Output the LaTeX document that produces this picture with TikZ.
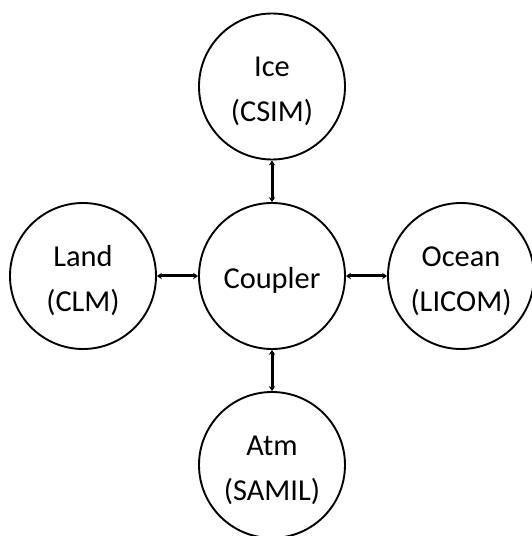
\documentclass[tikz,border=0pt]{standalone}
\usepackage{fontspec}
\setmainfont{Carlito}
\usetikzlibrary{arrows.meta}
% centred block of lines, set a little below the middle of its circle
\newcommand\modeltext[1]{\raisebox{-4pt}[\height][\depth]{\begin{tabular}{@{}c@{}}#1\end{tabular}}}
\begin{document}
\begin{tikzpicture}[x=1pt,y=1pt,
  model/.style={circle, draw=black, line width=1.9pt, minimum size=146pt,
    inner sep=0pt, font=\fontsize{30.4}{45}\selectfont},
  link/.style={line width=3pt, {Stealth[length=5pt,width=6.5pt]}-{Stealth[length=5pt,width=6.5pt]}}]
  \useasboundingbox (0,0) rectangle (532,536);
  % component models around the coupler
  \node[model] (cpl)   at (272,260) {\modeltext{Coupler}};
  \node[model] (ice)   at (272,449.5) {\modeltext{Ice\\(CSIM)}};
  \node[model] (land)  at (83,260)  {\modeltext{Land\\(CLM)}};
  \node[model] (ocean) at (461,260) {\modeltext{Ocean\\(LICOM)}};
  \node[model] (atm)   at (272,71)  {\modeltext{Atm\\(SAMIL)}};
  % two-way exchanges through the coupler
  \draw[link] (ice.south) -- (cpl.north);
  \draw[link] (land.east) -- (cpl.west);
  \draw[link] (cpl.east) -- (ocean.west);
  \draw[link] (cpl.south) -- (atm.north);
\end{tikzpicture}
\end{document}
